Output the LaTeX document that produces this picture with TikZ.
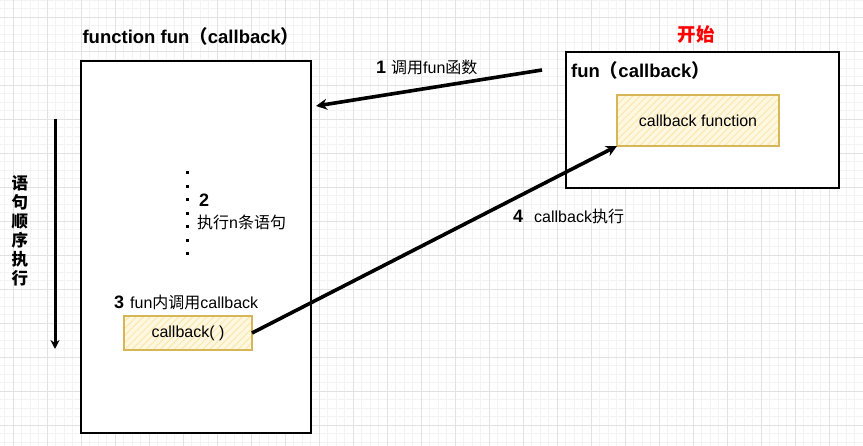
\documentclass[tikz,border=0pt]{standalone}
\usepackage{fontspec}
\setmainfont{Liberation Sans}
\newfontfamily\zhfont{Noto Sans CJK SC}
\usepackage{tikz}
\usetikzlibrary{arrows.meta,patterns.meta}
\definecolor{hatchline}{HTML}{D6B656}
\definecolor{hatchfill}{HTML}{FFF8E1}
\definecolor{hatchstroke}{HTML}{FBE7AE}
\definecolor{gridminor}{HTML}{F3F3F3}
\definecolor{gridmajor}{HTML}{E2E2E2}
\newcommand{\zh}[1]{{\zhfont#1}}
\newcommand{\num}[1]{{\fontsize{18}{20}\selectfont\bfseries#1}}

\tikzset{
	frame/.style={draw=black,line width=1.6pt,fill=white,inner sep=0pt,outer sep=0pt},
	hatchbox/.style={draw=hatchline,line width=1.5pt,inner sep=0pt,outer sep=0pt,
		preaction={fill=hatchfill},
		pattern={Lines[angle=45,distance=5pt,line width=1pt]},pattern color=hatchstroke},
	txt/.style={font=\fontsize{16}{19}\selectfont,inner sep=0pt},
	title/.style={font=\fontsize{18.5}{20}\selectfont\bfseries,inner sep=0pt},
	flow/.style={line width=3.6pt,-{Stealth[length=11pt,width=11pt]}},
}

\begin{document}
\begin{tikzpicture}[x=1pt,y=-1pt]
	\useasboundingbox (0,0) rectangle (863,446);
	\foreach \i in {0,...,101} \draw[gridminor,line width=0.8pt] ({4.5+8.5*\i},0) -- ({4.5+8.5*\i},446);
	\foreach \i in {0,...,52} \draw[gridminor,line width=0.8pt] (0,{8.5*\i}) -- (863,{8.5*\i});
	\foreach \i in {0,...,25} \draw[gridmajor,line width=0.9pt] ({13+34*\i},0) -- ({13+34*\i},446);
	\foreach \i in {0,...,12} \draw[gridmajor,line width=0.9pt] (0,{17+34*\i}) -- (863,{17+34*\i});

	\node[frame,minimum width=230pt,minimum height=372pt] (Fun) at (196,247) {};
	\node[frame,minimum width=273pt,minimum height=136pt] (Start) at (702.5,120) {};
	\node[hatchbox,txt,minimum width=162pt,minimum height=51pt] (CbFun) at (698,120.5) {callback function};
	\node[hatchbox,txt,minimum width=128pt,minimum height=34pt] (CbCall) at (188,333) {callback( )};

	\node[title] (FunTitle) at (191,36) {function fun\zh{（}callback\zh{）}};
	\node[title,text=red] (StartTitle) at (696,35) {\zh{开始}};
	\node[title,anchor=west] (StartHead) at (571,70) {fun\zh{（}callback\zh{）}};

	\node[txt,anchor=west] (L1) at (376,67) {\num{1}\hspace{5pt}\zh{调用}fun\zh{函数}};
	\node[txt,anchor=west] (N2) at (199,200) {\num{2}};
	\node[txt,anchor=west] (L2) at (197,222) {\zh{执行}n\zh{条语句}};
	\node[txt,anchor=west] (L3) at (114,302) {\num{3}\hspace{6pt}fun\zh{内调用}callback};
	\node[txt,anchor=west] (L4) at (513,216) {\num{4}\hspace{11pt}callback\zh{执行}};
	\node[inner sep=0pt,align=center,font=\fontsize{16.5}{19}\selectfont\bfseries\zhfont] (Order) at (20,231)
		{语\\句\\顺\\序\\执\\行};

	\foreach \y in {173,186.5,200,213.5,227,240.5,254}
		\fill (185.5,{\y-1.5}) rectangle (188.5,{\y+1.5});

	\coordinate (A1s) at (542,70);
	\coordinate (A1e) at (316,106);
	\coordinate (Os) at (55,119);
	\coordinate (Oe) at (55,349);
	\draw[flow] (A1s) -- (A1e);
	\draw[flow] (CbCall.east) -- (CbFun.south west);
	\draw[line width=3pt,-{Stealth[length=9pt,width=9pt]}] (Os) -- (Oe);
\end{tikzpicture}
\end{document}
